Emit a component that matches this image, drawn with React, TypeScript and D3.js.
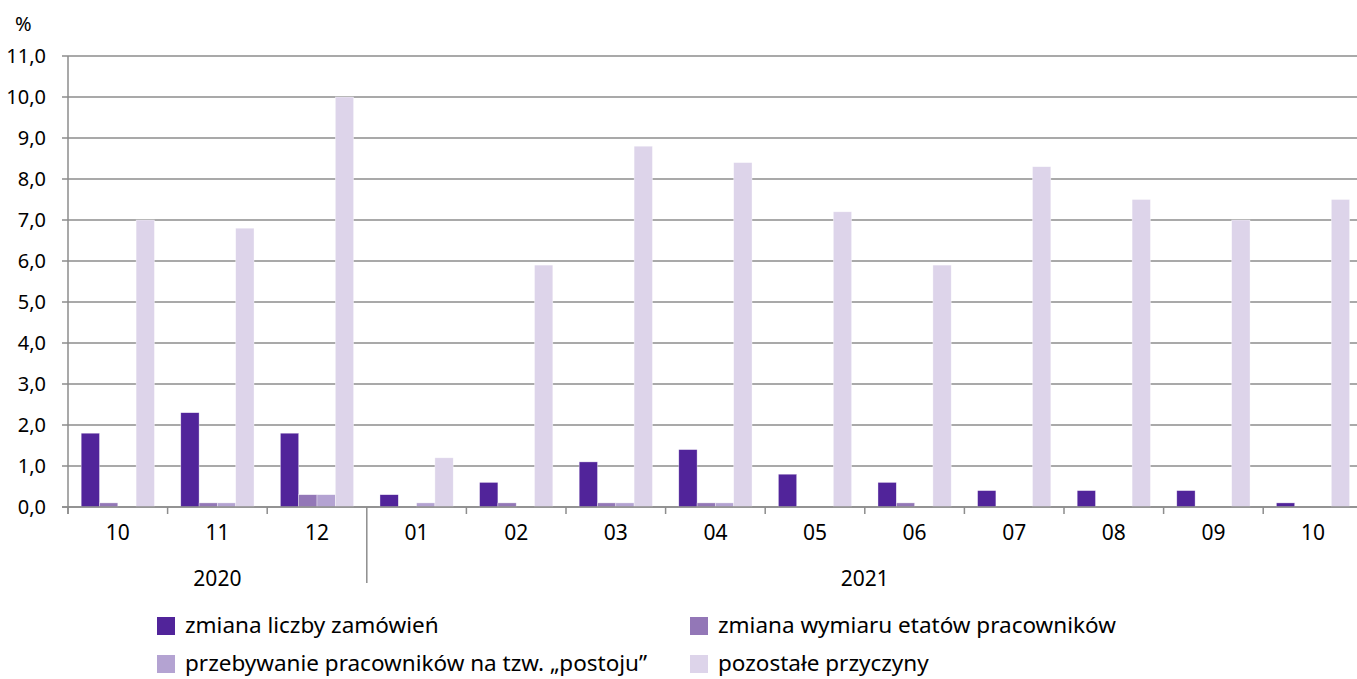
import { useEffect, useRef } from "react";
import * as d3 from "d3";

const months = ["10", "11", "12", "01", "02", "03", "04", "05", "06", "07", "08", "09", "10"];
const years = [
  { label: "2020", from: 0, to: 3 },
  { label: "2021", from: 3, to: 13 },
];
const seriesNames = [
  "zmiana liczby zamówień",
  "zmiana wymiaru etatów pracowników",
  "przebywanie pracowników na tzw. „postoju”",
  "pozostałe przyczyny",
];
const seriesColors = ["#51249a", "#9377b7", "#b4a3d2", "#ddd4ea"];
const zamowienia = [1.8, 2.3, 1.8, 0.3, 0.6, 1.1, 1.4, 0.8, 0.6, 0.4, 0.4, 0.4, 0.1];
const etaty = [0.1, 0.1, 0.3, 0, 0.1, 0.1, 0.1, 0, 0.1, 0, 0, 0, 0];
const postoj = [0, 0.1, 0.3, 0.1, 0, 0.1, 0.1, 0, 0, 0, 0, 0, 0];
const pozostale = [7.0, 6.8, 10.0, 1.2, 5.9, 8.8, 8.4, 7.2, 5.9, 8.3, 7.5, 7.0, 7.5];
const yTicks = [0, 1, 2, 3, 4, 5, 6, 7, 8, 9, 10, 11];

const W = 1357;
const H = 679;
const FONT = "'Noto Sans', sans-serif";

const App = () => {
  const ref = useRef<SVGSVGElement>(null);

  useEffect(() => {
    const svg = d3.select(ref.current);
    svg.selectAll("*").remove();

    const left = 68;
    const band = 99.6;
    const x = d3.scaleBand<number>()
      .domain(d3.range(months.length))
      .range([left, left + band * months.length])
      .paddingInner(0)
      .paddingOuter(0);
    const inner = d3.scaleBand<number>()
      .domain([0, 1, 2, 3])
      .range([0, x.bandwidth()])
      .paddingOuter(0.72)
      .paddingInner(0);
    const y = d3.scaleLinear().domain([0, 11]).range([507, 56]);

    const gridRight = W;

    // grid
    svg.append("g")
      .selectAll("line")
      .data(yTicks)
      .join("line")
      .attr("x1", left - 6)
      .attr("x2", gridRight)
      .attr("y1", d => y(d))
      .attr("y2", d => y(d))
      .attr("stroke", "#8d8d8d")
      .attr("stroke-width", 1.5);

    // y axis line
    svg.append("line")
      .attr("x1", left).attr("x2", left)
      .attr("y1", y(11)).attr("y2", y(0) + 7)
      .attr("stroke", "#8d8d8d").attr("stroke-width", 1.5);

    // y labels
    svg.append("g")
      .selectAll("text")
      .data(yTicks)
      .join("text")
      .attr("x", 46)
      .attr("y", d => y(d))
      .attr("dy", "0.35em")
      .attr("text-anchor", "end")
      .attr("font-family", FONT)
      .attr("font-size", 20)
      .attr("fill", "#000")
      .text(d => d3.format(".1f")(d).replace(".", ","));

    svg.append("text")
      .attr("x", 15).attr("y", 31)
      .attr("font-family", FONT).attr("font-size", 20)
      .text("%");

    // bars
    const series = [zamowienia, etaty, postoj, pozostale];
    series.forEach((vals, si) => {
      svg.append("g")
        .selectAll("rect")
        .data(vals)
        .join("rect")
        .attr("x", (d, i) => (x(i) as number) + (inner(si) as number))
        .attr("width", inner.bandwidth())
        .attr("y", d => y(d))
        .attr("height", d => y(0) - y(d))
        .attr("fill", seriesColors[si])
        .attr("stroke", "#ffffff")
        .attr("stroke-width", 0.6)
        .attr("stroke-opacity", d => (d > 0 ? 0.6 : 0));
    });

    // x axis baseline
    svg.append("line")
      .attr("x1", left - 6).attr("x2", gridRight)
      .attr("y1", y(0)).attr("y2", y(0))
      .attr("stroke", "#8d8d8d").attr("stroke-width", 1.5);

    // category ticks
    const boundaries = d3.range(months.length + 1);
    svg.append("g")
      .selectAll("line")
      .data(boundaries)
      .join("line")
      .attr("x1", i => left + band * i)
      .attr("x2", i => left + band * i)
      .attr("y1", y(0))
      .attr("y2", i => (years.some(yr => yr.from === i && i > 0) ? 583 : y(0) + 7))
      .attr("stroke", "#8d8d8d")
      .attr("stroke-width", 1.5);

    svg.append("g")
      .selectAll("text")
      .data(months)
      .join("text")
      .attr("x", (d, i) => (x(i) as number) + x.bandwidth() / 2)
      .attr("y", 540)
      .attr("text-anchor", "middle")
      .attr("font-family", FONT)
      .attr("font-size", 21)
      .text(d => d);

    svg.append("g")
      .selectAll("text")
      .data(years)
      .join("text")
      .attr("x", d => left + band * (d.from + d.to) / 2)
      .attr("y", 586)
      .attr("text-anchor", "middle")
      .attr("font-family", FONT)
      .attr("font-size", 21)
      .text(d => d.label);

    // legend
    const legendPos = [
      { x: 157, y: 626 },
      { x: 690, y: 626 },
      { x: 157, y: 664 },
      { x: 690, y: 664 },
    ];
    const lg = svg.append("g")
      .selectAll("g")
      .data(seriesNames)
      .join("g")
      .attr("transform", (d, i) => `translate(${legendPos[i].x},${legendPos[i].y})`);
    lg.append("rect")
      .attr("x", 0).attr("y", -9)
      .attr("width", 18).attr("height", 18)
      .attr("fill", (d, i) => seriesColors[i]);
    lg.append("text")
      .attr("x", 28).attr("y", 0)
      .attr("dy", "0.33em")
      .attr("font-family", FONT)
      .attr("font-size", 22.5)
      .text(d => d);
  }, []);

  return (
    <svg
      ref={ref}
      width={W}
      height={H}
      style={{ position: "absolute", left: 0, top: 0, background: "#fff" }}
    />
  );
};

export default App;
